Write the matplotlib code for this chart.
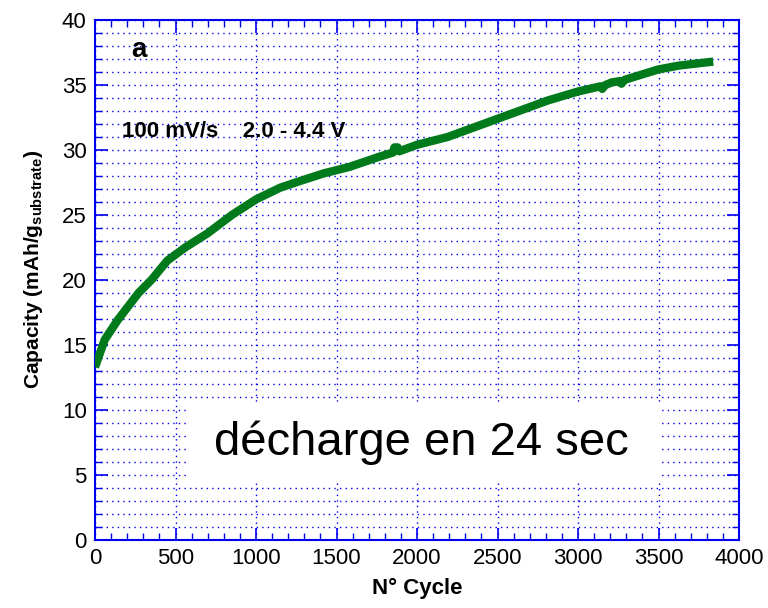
import matplotlib
matplotlib.use("Agg")
import matplotlib.pyplot as plt
from matplotlib.patches import Rectangle
from matplotlib.ticker import MultipleLocator

plt.rcParams['font.family'] = ['Liberation Sans', 'DejaVu Sans']
plt.rcParams['mathtext.fontset'] = 'custom'
plt.rcParams['mathtext.rm'] = 'Liberation Sans'
plt.rcParams['mathtext.bf'] = 'Liberation Sans:bold'

# discharge capacity vs cycle number
cycles = [0, 60, 140, 270, 350, 450, 560, 700, 850, 1000, 1150, 1270, 1420,
          1580, 1770, 1850, 1860, 1880, 1890, 2000, 2190, 2500, 2810, 3000,
          3140, 3150, 3170, 3210, 3260, 3270, 3290, 3500, 3630, 3840]
capacity = [13.3, 15.4, 16.9, 19.0, 20.0, 21.5, 22.5, 23.6, 25.0, 26.2, 27.1,
            27.6, 28.2, 28.7, 29.5, 29.8, 30.2, 30.2, 29.9, 30.4, 31.0, 32.4,
            33.8, 34.5, 34.9, 34.7, 35.0, 35.2, 35.3, 35.1, 35.4, 36.2, 36.5,
            36.8]

blue = '#0000ee'

fig = plt.figure(figsize=(7.68, 6.08), dpi=100)
ax = fig.add_axes([95 / 768, 68 / 608, 644 / 768, 520 / 608])

ax.plot(cycles, capacity, color='#007a1a', lw=6, solid_capstyle='butt',
        solid_joinstyle='round', zorder=3)

ax.set_xlim(0, 4000)
ax.set_ylim(0, 40)
ax.xaxis.set_major_locator(MultipleLocator(500))
ax.xaxis.set_minor_locator(MultipleLocator(100))
ax.yaxis.set_major_locator(MultipleLocator(5))
ax.yaxis.set_minor_locator(MultipleLocator(1))

ax.set_axisbelow(True)
ax.xaxis.grid(True, which='major', color=blue, ls=(0, (1, 3)), lw=1)
ax.yaxis.grid(True, which='both', color=blue, ls=(0, (1, 3)), lw=1)

for s in ax.spines.values():
    s.set_color(blue)
    s.set_linewidth(1.5)
ax.tick_params(which='both', direction='in', top=True, right=True,
               color=blue, labelsize=16, pad=6)
ax.tick_params(which='major', length=9, width=1.2)
ax.tick_params(which='minor', length=5, width=1)

ax.set_xlabel('N° Cycle', fontsize=16, fontweight='bold', labelpad=6)
ax.set_ylabel('Capacity (mAh/g$_\\mathbf{substrate}$)', fontsize=15,
              fontweight='bold')
ax.yaxis.set_label_coords(-0.078, 0.52)

ax.text(273, 37.7, 'a', fontsize=20, fontweight='bold', ha='center',
        va='center')
ax.text(168, 31.0, '100 mV/s    2.0 - 4.4 V', fontsize=16, fontweight='bold',
        ha='left', va='baseline')

# white panel behind the big label
ax.add_patch(Rectangle((590, 4.45), 2930, 6.15, facecolor='white',
                       edgecolor='none', zorder=1))
ax.text(2025, 7.5, 'décharge en 24 sec', fontsize=34, ha='center',
        va='center', zorder=2)

fig.savefig('out.png', dpi=100)
